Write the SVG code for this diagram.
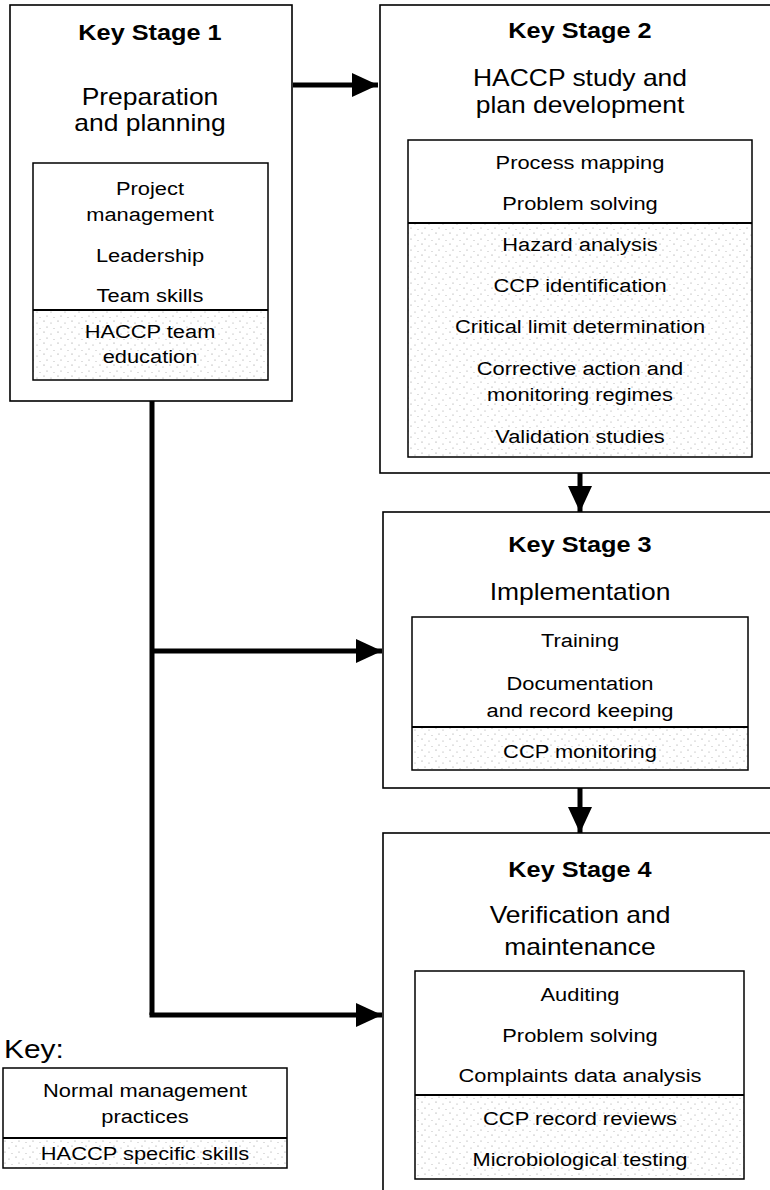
<svg xmlns="http://www.w3.org/2000/svg" width="770" height="1190" viewBox="0 0 770 1190">
  <defs>
    <!-- sparse stipple used for the HACCP-specific skill bands -->
    <pattern id="stipple" width="14" height="11" patternUnits="userSpaceOnUse">
      <rect width="14" height="11" fill="#ffffff"/>
      <circle cx="2" cy="2" r="0.6" fill="#8a8a8a"/>
      <circle cx="9" cy="4" r="0.6" fill="#a0a0a0"/>
      <circle cx="5" cy="8" r="0.6" fill="#959595"/>
      <circle cx="12" cy="9.5" r="0.5" fill="#a8a8a8"/>
    </pattern>
    <marker id="head" viewBox="0 0 26 24" refX="26" refY="12" markerWidth="26" markerHeight="24" markerUnits="userSpaceOnUse" orient="auto">
      <path d="M0,0 L26,12 L0,24 Z" fill="#000"/>
    </marker>
    <style>
      .outer { fill: #ffffff; stroke: #000; stroke-width: 1.6; }
      .dots  { fill: url(#stipple); stroke: none; }
      .div   { stroke: #000; stroke-width: 2; }
      .frame { fill: none; stroke: #000; stroke-width: 1.5; }
      text { font-family: "Liberation Sans", Arial, sans-serif; fill: #000; text-anchor: middle; }
      .title { font-size: 22px; font-weight: bold; }
      .sub   { font-size: 23px; }
      .item  { font-size: 19px; }
      .key   { font-size: 26px; text-anchor: start; }
      .conn  { fill: none; stroke: #000; stroke-width: 5; }
    </style>
  </defs>

  <!-- Key Stage 1 -->
  <g id="stage1">
    <rect class="outer" x="10" y="5" width="282" height="396"/>
    <rect class="dots" x="33" y="310" width="235" height="70"/>
    <rect class="frame" x="33" y="163" width="235" height="217"/>
    <line class="div" x1="33" y1="310" x2="268" y2="310"/>
    <g transform="translate(150,0) scale(1.15,1)">
      <text class="title" x="0" y="40">Key Stage 1</text>
      <text class="sub" x="0" y="105">Preparation</text>
      <text class="sub" x="0" y="131">and planning</text>
      <text class="item" x="0" y="195">Project</text>
      <text class="item" x="0" y="221">management</text>
      <text class="item" x="0" y="262">Leadership</text>
      <text class="item" x="0" y="302">Team skills</text>
      <text class="item" x="0" y="338">HACCP team</text>
      <text class="item" x="0" y="363">education</text>
    </g>
  </g>

  <!-- Key Stage 2 -->
  <g id="stage2">
    <rect class="outer" x="380" y="5" width="400" height="468"/>
    <rect class="dots" x="408" y="223" width="344" height="234"/>
    <rect class="frame" x="408" y="140" width="344" height="317"/>
    <line class="div" x1="408" y1="223" x2="752" y2="223"/>
    <g transform="translate(580,0) scale(1.15,1)">
      <text class="title" x="0" y="38">Key Stage 2</text>
      <text class="sub" x="0" y="86">HACCP study and</text>
      <text class="sub" x="0" y="113">plan development</text>
      <text class="item" x="0" y="169">Process mapping</text>
      <text class="item" x="0" y="210">Problem solving</text>
      <text class="item" x="0" y="251">Hazard analysis</text>
      <text class="item" x="0" y="292">CCP identification</text>
      <text class="item" x="0" y="333">Critical limit determination</text>
      <text class="item" x="0" y="375">Corrective action and</text>
      <text class="item" x="0" y="401">monitoring regimes</text>
      <text class="item" x="0" y="443">Validation studies</text>
    </g>
  </g>

  <!-- Key Stage 3 -->
  <g id="stage3">
    <rect class="outer" x="383" y="512" width="400" height="276"/>
    <rect class="dots" x="412" y="727" width="336" height="43"/>
    <rect class="frame" x="412" y="617" width="336" height="153"/>
    <line class="div" x1="412" y1="727" x2="748" y2="727"/>
    <g transform="translate(580,0) scale(1.15,1)">
      <text class="title" x="0" y="552">Key Stage 3</text>
      <text class="sub" x="0" y="600">Implementation</text>
      <text class="item" x="0" y="647">Training</text>
      <text class="item" x="0" y="690">Documentation</text>
      <text class="item" x="0" y="717">and record keeping</text>
      <text class="item" x="0" y="758">CCP monitoring</text>
    </g>
  </g>

  <!-- Key Stage 4 -->
  <g id="stage4">
    <rect class="outer" x="383" y="833" width="400" height="370"/>
    <rect class="dots" x="415" y="1095" width="329" height="84"/>
    <rect class="frame" x="415" y="971" width="329" height="208"/>
    <line class="div" x1="415" y1="1095" x2="744" y2="1095"/>
    <g transform="translate(580,0) scale(1.15,1)">
      <text class="title" x="0" y="877">Key Stage 4</text>
      <text class="sub" x="0" y="923">Verification and</text>
      <text class="sub" x="0" y="955">maintenance</text>
      <text class="item" x="0" y="1001">Auditing</text>
      <text class="item" x="0" y="1042">Problem solving</text>
      <text class="item" x="0" y="1082">Complaints data analysis</text>
      <text class="item" x="0" y="1125">CCP record reviews</text>
      <text class="item" x="0" y="1166">Microbiological testing</text>
    </g>
  </g>

  <!-- Legend -->
  <g id="legend">
    <g transform="translate(4,0) scale(1.15,1)">
      <text class="key" x="0" y="1058">Key:</text>
    </g>
    <rect class="dots" x="3" y="1138" width="284" height="30"/>
    <rect class="frame" x="3" y="1068" width="284" height="100"/>
    <line class="div" x1="3" y1="1138" x2="287" y2="1138"/>
    <g transform="translate(145,0) scale(1.15,1)">
      <text class="item" x="0" y="1097">Normal management</text>
      <text class="item" x="0" y="1123">practices</text>
      <text class="item" x="0" y="1160">HACCP specific skills</text>
    </g>
  </g>

  <!-- Connectors -->
  <g id="connectors">
    <path class="conn" d="M293,85 H378" marker-end="url(#head)"/>
    <path class="conn" d="M580,473 V512" marker-end="url(#head)"/>
    <path class="conn" d="M580,788 V833" marker-end="url(#head)"/>
    <path class="conn" d="M152,401 V1015"/>
    <path class="conn" d="M152,651 H382" marker-end="url(#head)"/>
    <path class="conn" d="M149.5,1015 H382" marker-end="url(#head)"/>
  </g>
</svg>
